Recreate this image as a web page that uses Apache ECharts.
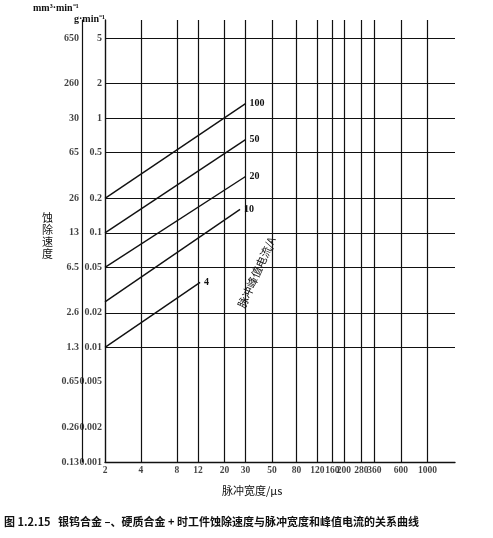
<!DOCTYPE html>
<html><head><meta charset="utf-8">
<script src="https://cdn.jsdelivr.net/npm/echarts@6/dist/echarts.min.js"></script>
<style>html,body{margin:0;background:#fff}#c{width:493px;height:538px}</style>
</head><body><div id="c"></div>
<script>
const xTicks = [2, 4, 8, 12, 20, 30, 50, 80, 120, 160, 200, 280, 360, 600, 1000];
const gTicks = [5, 2, 1, 0.5, 0.2, 0.1, 0.05, 0.02, 0.01, 0.005, 0.002, 0.001];
const mmLabels = ['650', '260', '30', '65', '26', '13', '6.5', '2.6', '1.3', '0.65', '0.26', '0.13'];
const currents = ['100', '50', '20', '10', '4'];
const lineStart = [[2, 0.2], [2, 0.1], [2, 0.05], [2, 0.025], [2, 0.01]];
const lineEnd = [[30, 1.34], [30, 0.65], [30, 0.31], [27, 0.16], [12.5, 0.037]];

const font = 'Liberation Serif';
const black = '#111';
const series = [];
// grid lines
series.push({
  type: 'line', data: [], silent: true,
  markLine: {
    symbol: 'none', silent: true, label: { show: false },
    lineStyle: { color: black, width: 1.2, type: 'solid' },
    data: gTicks.map(v => ({ yAxis: v })).concat(xTicks.slice(1).map(v => ({ xAxis: v })))
  }
});
// g labels and mm3 labels
series.push({
  type: 'scatter', symbolSize: 0, silent: true,
  data: gTicks.map(v => [2, v]),
  label: { show: true, position: 'left', distance: 3, color: black, fontFamily: font, fontSize: 10, fontWeight: 'bold',
    formatter: p => String(p.value[1]) }
});
series.push({
  type: 'scatter', symbolSize: 0, silent: true,
  data: gTicks.map((v, i) => ({ value: [2, v], name: mmLabels[i] })),
  label: { show: true, position: 'left', distance: 26, color: black, fontFamily: font, fontSize: 10, fontWeight: 'bold',
    formatter: p => p.name }
});
// x labels
series.push({
  type: 'scatter', symbolSize: 0, silent: true,
  data: xTicks.map(v => [v, 0.001]),
  label: { show: true, position: 'bottom', distance: 4, color: black, fontFamily: font, fontSize: 9.5, fontWeight: 'bold',
    formatter: p => String(p.value[0]) }
});
// current lines
currents.forEach((c, i) => {
  series.push({
    type: 'line', symbol: 'none', silent: true,
    lineStyle: { color: black, width: 1.4 },
    data: [lineStart[i], lineEnd[i]],
    endLabel: { show: true, formatter: c, color: black, fontFamily: font, fontSize: 10, fontWeight: 'bold', distance: 4 }
  });
});

const chart = echarts.init(document.getElementById('c'));
chart.setOption({
  animation: false,
  backgroundColor: '#fff',
  grid: { left: 105, right: 38, top: 20, bottom: 76 },
  xAxis: { type: 'log', logBase: 2, min: 2, max: 1700,
    axisLine: { lineStyle: { color: black, width: 1.4 } },
    axisTick: { show: false }, axisLabel: { show: false }, splitLine: { show: false } },
  yAxis: [
    { type: 'log', min: 0.001, max: 7.2,
      axisLine: { show: true, lineStyle: { color: black, width: 1.4 } },
      axisTick: { show: false }, axisLabel: { show: false }, splitLine: { show: false } },
    { type: 'log', min: 0.001, max: 7.2, position: 'left', offset: 23,
      axisLine: { show: true, lineStyle: { color: black, width: 1.2 } },
      axisTick: { show: false }, axisLabel: { show: false }, splitLine: { show: false } }
  ],
  series: series,
  graphic: [
    { type: 'text', left: 33, top: 3, style: { text: 'mm³·min⁻¹', font: 'bold 10px ' + font, fill: black } },
    { type: 'text', left: 74, top: 14, style: { text: 'g·min⁻¹', font: 'bold 10px ' + font, fill: black } },
    { type: 'text', left: 42, top: 212, style: { text: '蚀\n除\n速\n度', font: '11px "Noto Sans CJK SC"', fill: black, lineHeight: 12 } },
    { type: 'text', x: 236, y: 305, rotation: 1.15,
      style: { text: '脉冲峰值电流/A', font: '11px "Noto Sans CJK SC"', fill: black } },
    { type: 'text', left: 222, top: 485, style: { text: '脉冲宽度/μs', font: '11px "Noto Sans CJK SC"', fill: black } },
    { type: 'text', left: 4, top: 516, style: { text: '图 1.2.15   银钨合金 –、硬质合金 + 时工件蚀除速度与脉冲宽度和峰值电流的关系曲线', font: 'bold 11px "Noto Sans CJK SC"', fill: black } }
  ]
});
</script></body></html>
